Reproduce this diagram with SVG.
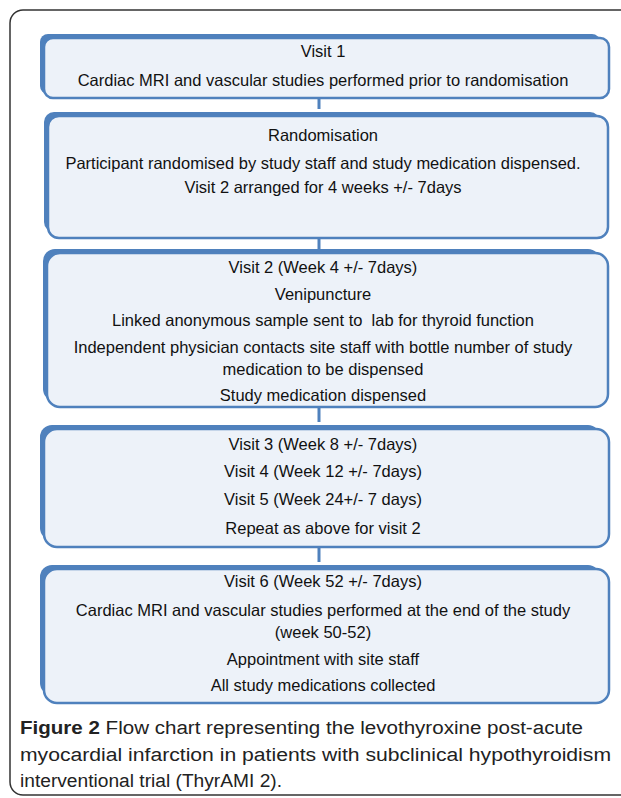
<svg xmlns="http://www.w3.org/2000/svg" width="621" height="798" viewBox="0 0 621 798">
<style>
.sh{fill:#4f81bd}
.bx{fill:#edf2f9;stroke:#4f81bd;stroke-width:2.5}
.t{font-family:"Liberation Sans","Open Sans",sans-serif;font-size:16.5px;fill:#111;text-anchor:middle;white-space:pre}
.c{font-family:"Liberation Sans","Open Sans",sans-serif;font-size:18px;fill:#222}
.cn{stroke:#4f81bd;stroke-width:3}
</style>
<rect x="0" y="0" width="621" height="798" fill="#fff"/>
<rect x="10" y="10" width="640" height="785" rx="13" fill="none" stroke="#333" stroke-width="1.5"/>
<g id="connectors">
<line class="cn" x1="319" y1="99" x2="319" y2="109"/>
<line class="cn" x1="319" y1="238" x2="319" y2="249"/>
<line class="cn" x1="319" y1="407" x2="319" y2="422"/>
<line class="cn" x1="319" y1="546" x2="319" y2="562"/>
</g>
<g id="visit1">
<rect class="sh" x="40" y="34" width="560" height="60" rx="8"/>
<rect class="bx" x="44" y="38" width="565" height="60" rx="9"/>
<text class="t" x="323" y="57">Visit 1</text>
<text class="t" x="323" y="86">Cardiac MRI and vascular studies performed prior to randomisation</text>
</g>
<g id="randomisation">
<rect class="sh" x="44" y="112" width="556" height="120" rx="10"/>
<rect class="bx" x="48" y="116" width="560" height="122" rx="11"/>
<text class="t" x="323" y="141" font-size="17.5">Randomisation</text>
<text class="t" x="323" y="169">Participant randomised by study staff and study medication dispensed.</text>
<text class="t" x="323" y="193">Visit 2 arranged for 4 weeks +/- 7days</text>
</g>
<g id="visit2">
<rect class="sh" x="43" y="249" width="557" height="152" rx="12"/>
<rect class="bx" x="47" y="253" width="561" height="154" rx="13"/>
<text class="t" x="323" y="273">Visit 2 (Week 4 +/- 7days)</text>
<text class="t" x="323" y="300">Venipuncture</text>
<text class="t" x="323" y="326">Linked anonymous sample sent to  lab for thyroid function</text>
<text class="t" x="323" y="353">Independent physician contacts site staff with bottle number of study</text>
<text class="t" x="323" y="375">medication to be dispensed</text>
<text class="t" x="323" y="401">Study medication dispensed</text>
</g>
<g id="visits345">
<rect class="sh" x="40" y="425" width="560" height="115" rx="12"/>
<rect class="bx" x="44" y="429" width="565" height="118" rx="13"/>
<text class="t" x="323" y="450">Visit 3 (Week 8 +/- 7days)</text>
<text class="t" x="323" y="477">Visit 4 (Week 12 +/- 7days)</text>
<text class="t" x="323" y="505">Visit 5 (Week 24+/- 7 days)</text>
<text class="t" x="323" y="534">Repeat as above for visit 2</text>
</g>
<g id="visit6">
<rect class="sh" x="40" y="565" width="560" height="130" rx="12"/>
<rect class="bx" x="44" y="569" width="565" height="134" rx="13"/>
<text class="t" x="323" y="587">Visit 6 (Week 52 +/- 7days)</text>
<text class="t" x="323" y="616">Cardiac MRI and vascular studies performed at the end of the study</text>
<text class="t" x="323" y="638">(week 50-52)</text>
<text class="t" x="323" y="665">Appointment with site staff</text>
<text class="t" x="323" y="691">All study medications collected</text>
</g>
<g id="caption">
<text class="c" x="20" y="734" textLength="563" lengthAdjust="spacingAndGlyphs"><tspan font-weight="bold">Figure 2</tspan> Flow chart representing the levothyroxine post-acute</text>
<text class="c" x="20" y="761" textLength="591" lengthAdjust="spacingAndGlyphs">myocardial infarction in patients with subclinical hypothyroidism</text>
<text class="c" x="20" y="787" textLength="262" lengthAdjust="spacingAndGlyphs">interventional trial (ThyrAMI 2).</text>
</g>
</svg>
